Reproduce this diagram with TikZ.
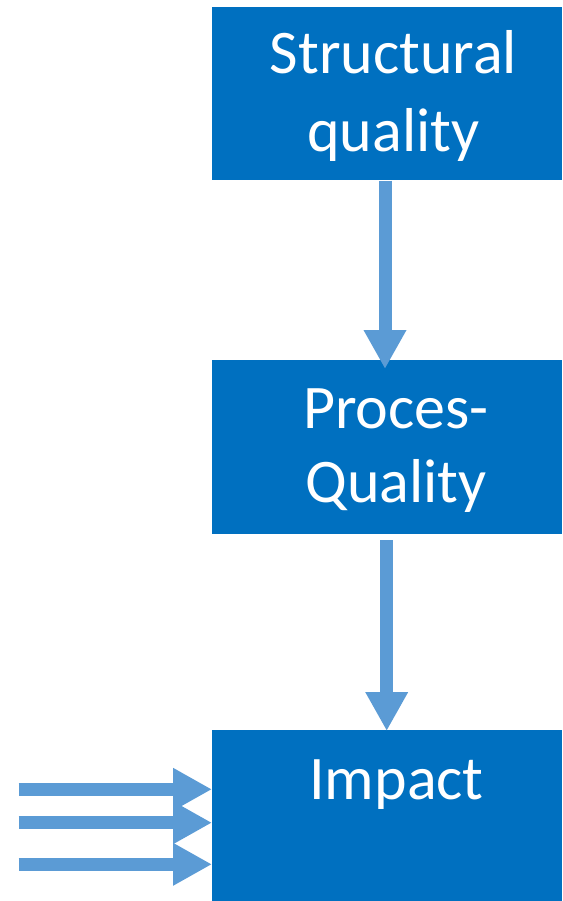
\documentclass[tikz,border=0pt]{standalone}
\usepackage{fontspec}
\setmainfont{Carlito}
\usetikzlibrary{arrows.meta,calc}
\definecolor{boxblue}{HTML}{0070C0}
\definecolor{arrblue}{HTML}{5B9BD5}
\begin{document}
\begin{tikzpicture}[x=1pt,y=-1pt,
  box/.style={fill=boxblue,draw=none,inner sep=0pt,minimum width=350pt},
  lbl/.style={text=white,align=center,anchor=base,inner sep=0pt},
  arr/.style={draw=arrblue,line width=13pt,-{Triangle[width=40pt,length=39pt]}}]
\useasboundingbox (0,0) rectangle (562,901);
% boxes
\node[box,minimum height=173.5pt,anchor=north west] (b1) at (212,6.7) {};
\node[box,minimum height=174pt,anchor=north west] (b2) at (212,360) {};
\node[box,minimum height=171pt,anchor=north west] (b3) at (212,730) {};
% labels (base anchor = baseline of last line)
\node[lbl,font=\fontsize{62}{78}\selectfont] (t1) at (393.5,152) {Structural\\quality};
\node[lbl,font=\fontsize{62}{74}\selectfont] (t2) at (396,502) {Proces-\\Quality};
\node[lbl,font=\fontsize{62}{74}\selectfont] (t3) at (396.5,799) {Impact};
% vertical arrows
\coordinate (x1) at (385,0);
\coordinate (x2) at (386.7,0);
\draw[arr] (b1.south -| x1) -- ([yshift=-9pt]b2.north -| x1);
\draw[arr] ([yshift=-6pt]b2.south -| x2) -- ([yshift=-1pt]b3.north -| x2);
% side arrows
\coordinate (s1) at (18.7,789.3);
\coordinate (s2) at (18.7,822.7);
\coordinate (s3) at (18.7,864.3);
\draw[arr] (s1) -- (s1 -| b3.west);
\draw[arr] (s2) -- (s2 -| b3.west);
\draw[arr] (s3) -- (s3 -| b3.west);
\end{tikzpicture}
\end{document}
